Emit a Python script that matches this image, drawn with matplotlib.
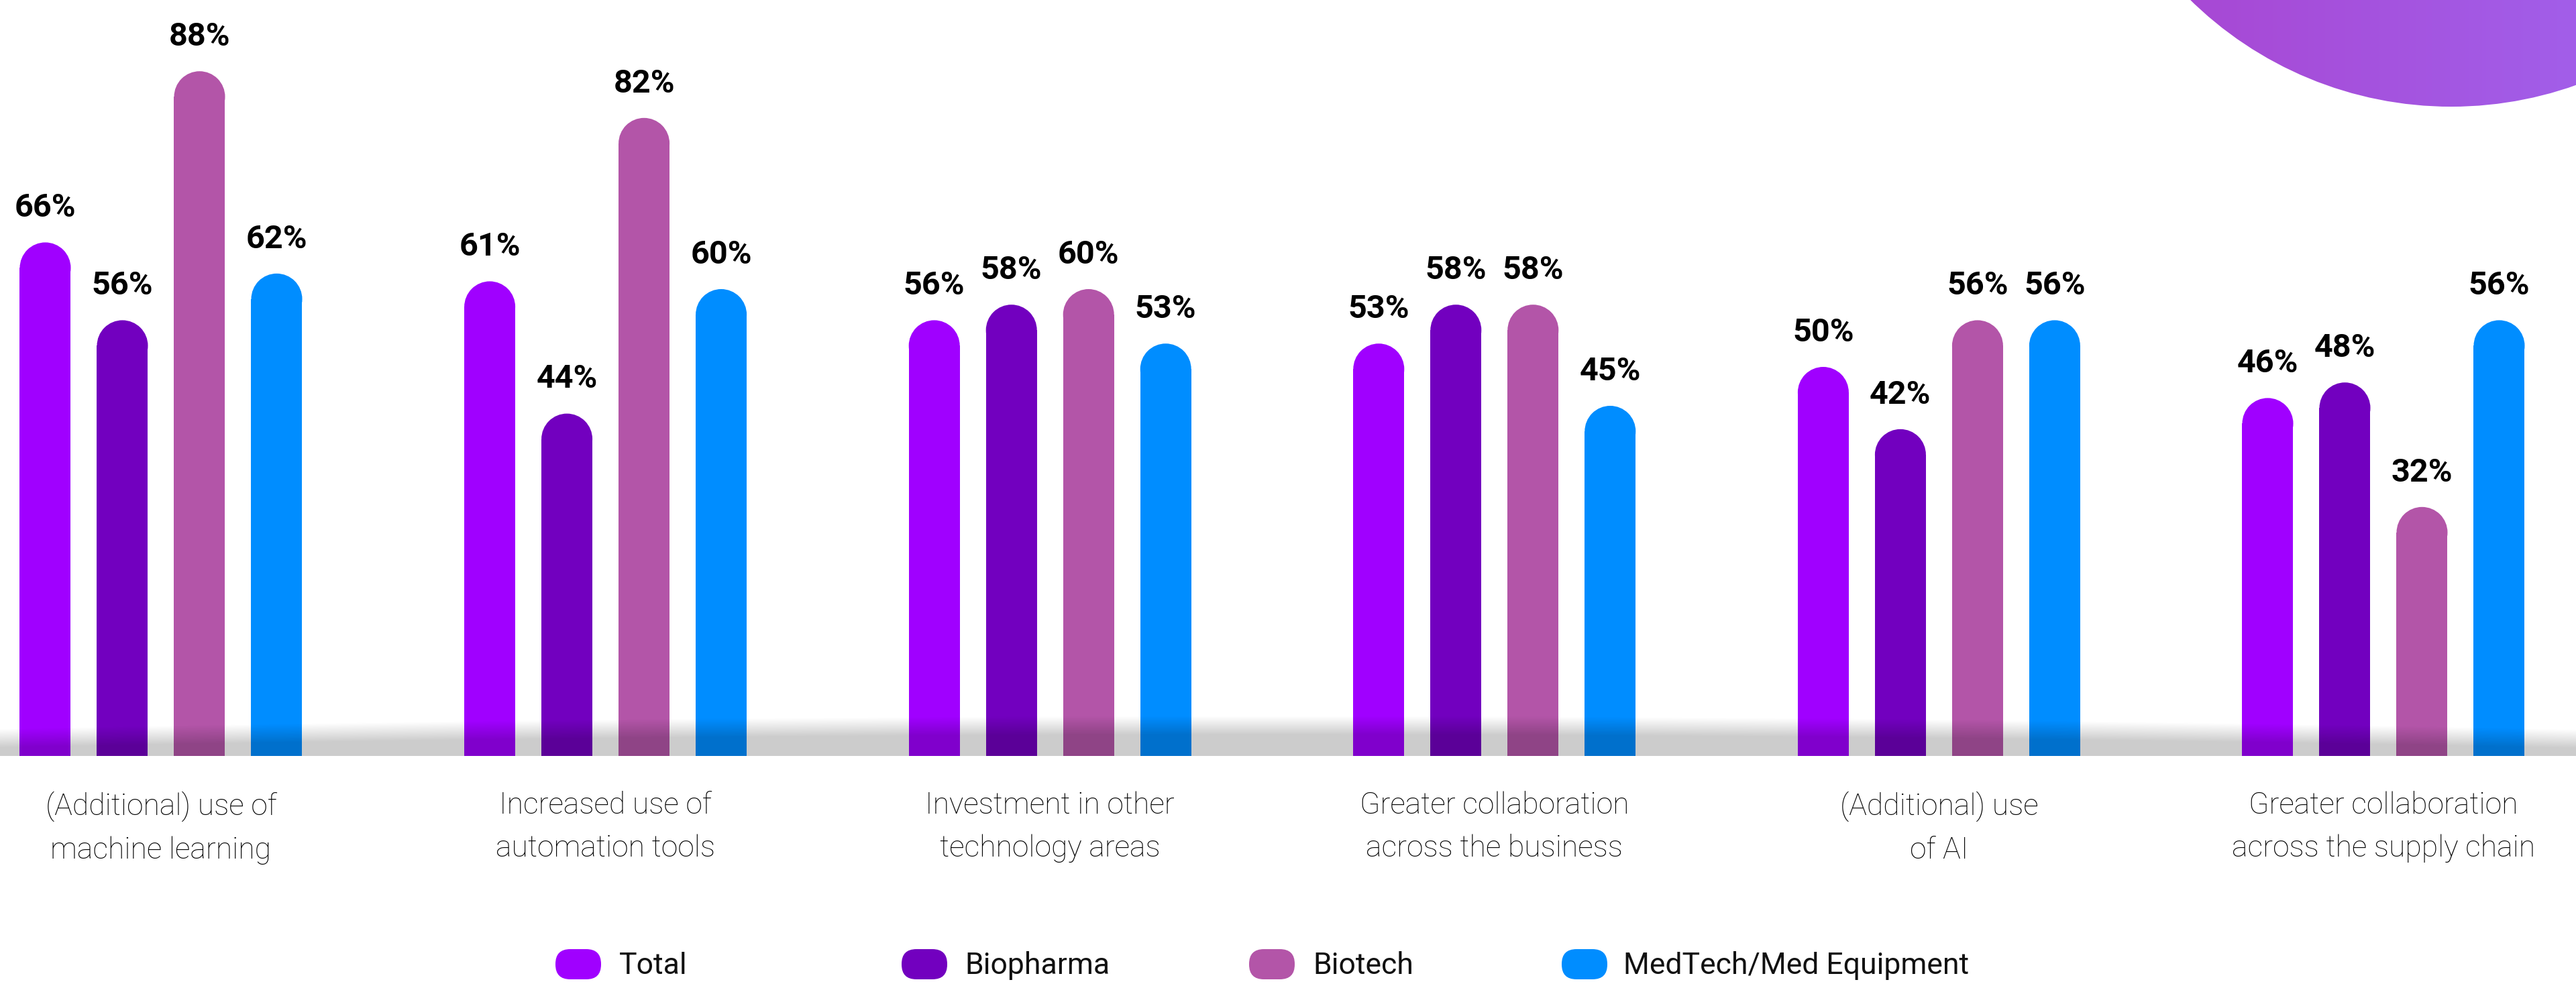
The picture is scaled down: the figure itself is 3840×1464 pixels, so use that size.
import numpy as np
import matplotlib
matplotlib.use('Agg')
import matplotlib.pyplot as plt
from matplotlib.patches import Ellipse, FancyBboxPatch, Circle

W, H = 3841, 1464

# data
categories = [
    "(Additional) use of\nmachine learning",
    "Increased use of\nautomation tools",
    "Investment in other\ntechnology areas",
    "Greater collaboration\nacross the business",
    "(Additional) use\nof AI",
    "Greater collaboration\nacross the supply chain",
]
series = ["Total", "Biopharma", "Biotech", "MedTech/Med Equipment"]
total = [66, 61, 56, 53, 50, 46]
biopharma = [56, 44, 58, 58, 42, 48]
biotech = [88, 82, 60, 58, 56, 32]
medtech = [62, 60, 53, 45, 56, 56]
values = [total, biopharma, biotech, medtech]
colors = ['#a000ff', '#7200bf', '#b355a8', '#008dff']

# layout (pixels of the 3841x1464 canvas)
base_px = 1127          # baseline, from top
px_per_unit = 11.6
group_px = 662.6
bar_px = 76
step_px = 115

fig = plt.figure(figsize=(W / 100, H / 100), dpi=100)
fig.patch.set_facecolor('white')

ax = fig.add_axes([0, (H - base_px) / H, 1, base_px / H])
ax.set_xlim(-240 / group_px, (W - 240) / group_px)
ax.set_ylim(0, base_px / px_per_unit)
ax.axis('off')

bw = bar_px / group_px
cap_h = bar_px / px_per_unit   # full ellipse height in data units
x = np.arange(len(categories))

for k, (vals, col) in enumerate(zip(values, colors)):
    xs = x + (k - 1.5) * step_px / group_px
    vals = np.array(vals, dtype=float)
    ax.bar(xs, vals - cap_h / 2, width=bw, color=col, linewidth=0, zorder=2)
    for xi, v in zip(xs, vals):
        ax.add_patch(Ellipse((xi, v - cap_h / 2), bw, cap_h, color=col, lw=0, zorder=2))
        ax.annotate(f"{int(v)}%", (xi, v), xytext=(0, 27.5), textcoords='offset points',
                    ha='center', va='baseline', fontsize=35, fontweight='bold',
                    family=['Roboto', 'DejaVu Sans'], color='black')

for i, cat in enumerate(categories):
    ax.annotate(cat, (i, 0), xytext=(0, -38), textcoords='offset points',
                ha='center', va='top', fontsize=32, fontweight='light',
                family=['Roboto', 'DejaVu Sans'], color='black',
                linespacing=1.62, annotation_clip=False)

# grey shadow band under the bars (multiply-like darkening)
band_top = 1050
band_ax = fig.add_axes([0, (H - base_px) / H, 1, (base_px - band_top) / H], zorder=3)
band_ax.axis('off')
xx = np.arange(W)
yy = np.arange(band_top, base_px) + 0.5
edge = 1067 + 20 * ((xx - 1900) / 1940.0) ** 2
a = np.clip((yy[:, None] - edge[None, :]) / 28.0, 0, 1) * 0.2
rgba = np.zeros((len(yy), W, 4))
rgba[..., 3] = a
band_ax.imshow(rgba, aspect='auto', extent=(0, W, base_px, band_top), interpolation='bilinear')
band_ax.set_xlim(0, W)
band_ax.set_ylim(base_px, band_top)

# purple circle, top right
circ_ax = fig.add_axes([3200 / W, (H - 200) / H, 641 / W, 200 / H], zorder=1)
circ_ax.axis('off')
circ_ax.set_xlim(3200, 3841)
circ_ax.set_ylim(200, 0)
gx = np.linspace(0, 1, 200)
grad = np.zeros((50, 200, 3))
c0 = np.array([0xa8, 0x46, 0xd2]) / 255
c1 = np.array([0xa2, 0x5e, 0xe9]) / 255
grad[:] = c0 + (c1 - c0) * gx[None, :, None]
im = circ_ax.imshow(grad, aspect='auto', extent=(3200, 3841, 200, 0))
im.set_clip_path(Circle((3654, -396), 555, transform=circ_ax.transData))

# legend
leg_marker_x = [828, 1344, 1862, 2328]
leg_text_x = [923, 1438, 1957, 2420]
for name, col, mx, tx in zip(series, colors, leg_marker_x, leg_text_x):
    fig.patches.append(FancyBboxPatch((mx, H - 1460), 68, 45,
                                      boxstyle="round,pad=0,rounding_size=22",
                                      transform=None, facecolor=col,
                                      edgecolor='none', lw=0, figure=fig))
    fig.text(tx / W, (H - 1452) / H, name, fontsize=32, family=['Roboto', 'DejaVu Sans'],
             ha='left', va='baseline', color='#111111')

fig.savefig('out.png', dpi=100, facecolor='white')
